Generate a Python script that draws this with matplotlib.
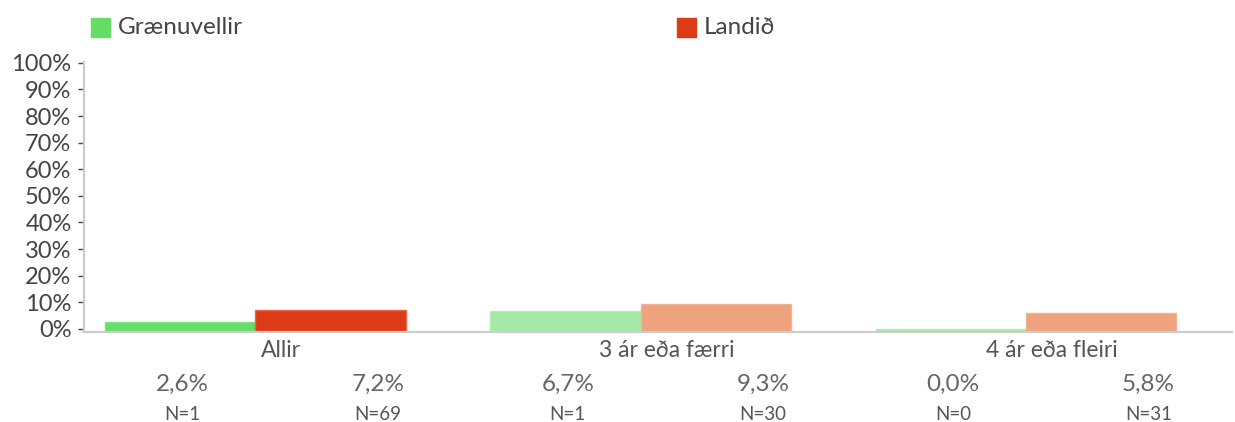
import numpy as np
import matplotlib
matplotlib.use('Agg')
import matplotlib.pyplot as plt

plt.rcParams['font.family'] = ['Lato', 'DejaVu Sans']

# Survey results per group
categories = ['Allir', '3 ár eða færri', '4 ár eða fleiri']
series_names = ['Grænuvellir', 'Landið']
local_values = [2.6, 6.7, 0.0]
national_values = [7.2, 9.3, 5.8]
local_n = [1, 1, 0]
national_n = [69, 30, 31]
y_ticks = [0, 10, 20, 30, 40, 50, 60, 70, 80, 90, 100]

# first group is highlighted, the others are faded
local_colors = ['#66dd66', '#a6e9a6', '#a6e9a6']
national_colors = ['#dd3a16', '#eea27e', '#eea27e']
local_edges = ['#7fe37f', '#b5edb5', '#b5edb5']
national_edges = ['#e8664a', '#f2b394', '#f2b394']


def fmt(v):
    return ('%.1f%%' % v).replace('.', ',')


def plot():
    fig = plt.figure(figsize=(12.35, 4.22), dpi=100)
    ax = fig.add_axes([84 / 1235, 90 / 422, 1148 / 1235, 270 / 422])

    ymin, ymax = -1.2, 100.3
    width = 0.39
    x = np.arange(len(categories))

    ax.bar(x - width / 2, np.array(local_values) - ymin, width, bottom=ymin,
           color=local_colors, edgecolor=local_edges, linewidth=1, zorder=2)
    ax.bar(x + width / 2, np.array(national_values) - ymin, width, bottom=ymin,
           color=national_colors, edgecolor=national_edges, linewidth=1, zorder=2)

    ax.set_xlim(-0.445, 2.535)
    ax.set_ylim(ymin, ymax)

    ax.set_yticks(y_ticks)
    ax.set_yticklabels(['%d%%' % t for t in y_ticks])
    ax.tick_params(axis='y', direction='out', length=4, width=1, color='#444444',
                   pad=5, labelsize=17, labelcolor='#444444')
    ax.set_xticks([])

    for side in ['top', 'right']:
        ax.spines[side].set_visible(False)
    for side in ['left', 'bottom']:
        ax.spines[side].set_color('#cccccc')
        ax.spines[side].set_linewidth(1.6)

    # category names and value labels under the axis
    trans = ax.get_xaxis_transform()
    for i, cat in enumerate(categories):
        ax.text(x[i] + 0.067, -0.07, cat, transform=trans, ha='center', va='center',
                fontsize=16.5, color='#555555')
        ax.text(x[i] - 0.189, -0.195, fmt(local_values[i]), transform=trans,
                ha='center', va='center', fontsize=17.5, color='#666666')
        ax.text(x[i] + 0.318, -0.195, fmt(national_values[i]), transform=trans,
                ha='center', va='center', fontsize=17.5, color='#666666')
        ax.text(x[i] - 0.189, -0.305, 'N=%d' % local_n[i], transform=trans,
                ha='center', va='center', fontsize=13.5, color='#555555')
        ax.text(x[i] + 0.318, -0.305, 'N=%d' % national_n[i], transform=trans,
                ha='center', va='center', fontsize=13.5, color='#555555')

    # legend entries placed separately
    for name, color, xpos in [(series_names[0], local_colors[0], 91),
                              (series_names[1], national_colors[0], 677)]:
        fig.patches.append(plt.Rectangle((xpos / 1235, (422 - 37) / 422), 19 / 1235, 19 / 422,
                                         transform=fig.transFigure, color=color))
        fig.text((xpos + 27) / 1235, (422 - 27) / 422, name, ha='left', va='center',
                 fontsize=17.5, color='#444444')

    fig.savefig('out.png', dpi=100)


if __name__ == '__main__':
    plot()
